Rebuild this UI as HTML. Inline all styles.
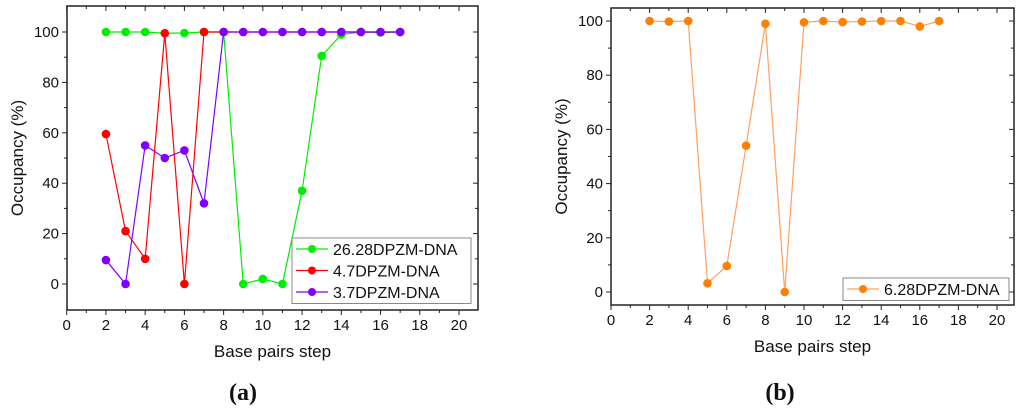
<!DOCTYPE html>
<html><head><meta charset="utf-8"><style>
html,body{margin:0;padding:0;background:#fff;}
svg{display:block;font-family:"Liberation Sans",sans-serif;}
</style></head><body>
<svg id="c" width="1024" height="412" viewBox="0 0 1024 412"></svg>
<script>
const xSteps = [2,3,4,5,6,7,8,9,10,11,12,13,14,15,16,17];
const greenVals = [100,100,100,99.5,99.6,100,100,0,2,0,37,90.5,99,100,99.8,100];
const redVals = [59.5,21,10,99.5,0,100,100,100,100,100,100,100,100,100,100,100];
const purpleVals = [9.5,0,55,50,53,32,100,100,100,100,100,100,100,100,100,100];
const orangeVals = [100,99.8,100,3.2,9.6,54,99,0,99.5,100,99.6,99.8,100,100,98,100];
const xTicks = [0,2,4,6,8,10,12,14,16,18,20];
const yTicks = [0,20,40,60,80,100];

const NS = "http://www.w3.org/2000/svg";
const svg = document.getElementById('c');
function mk(tag, attrs, parent){const e=document.createElementNS(NS,tag);for(const k in attrs)e.setAttribute(k,attrs[k]);(parent||svg).appendChild(e);return e;}

function panel(p){
  const g = mk('g',{});
  
  
  const sx = v => p.x0 + v*(p.x20-p.x0)/20;
  const sy = v => p.y0 - v*(p.y0-p.y100)/100;
  mk('rect',{x:p.left,y:p.top,width:p.right-p.left,height:p.bottom-p.top,fill:'none',stroke:'#222','stroke-width':1.5},g);
  for(let v=0; v<=21; v++){
    const x=sx(v); if(x>p.right) break;
    const len = v%2===0?5:3;
    mk('line',{x1:x,y1:p.bottom,x2:x,y2:p.bottom+len,stroke:'#222'},g);
    mk('line',{x1:x,y1:p.top,x2:x,y2:p.top+len,stroke:'#222'},g);
  }
  xTicks.forEach(v=>{
    const t=mk('text',{x:sx(v),y:p.bottom+20,'text-anchor':'middle','font-size':15,fill:'#111'},g);
    t.textContent=v;
    
    
  });
  for(let v=0; v<=100; v+=10){
    const y=sy(v); const len=v%20===0?5:3;
    mk('line',{x1:p.left-len,y1:y,x2:p.left,y2:y,stroke:'#222'},g);
    mk('line',{x1:p.right,y1:y,x2:p.right-len,y2:y,stroke:'#222'},g);
  }
  yTicks.forEach(v=>{
    const t=mk('text',{x:p.left-8,y:sy(v)+5,'text-anchor':'end','font-size':15,fill:'#111'},g);
    t.textContent=v;
    
    
  });
  const xt=mk('text',{x:(p.left+p.right)/2,y:p.bottom+47,'text-anchor':'middle','font-size':17,fill:'#111'},g);
  xt.textContent='Base pairs step';
  
  
  const yt=mk('text',{x:0,y:0,'text-anchor':'middle','font-size':17,fill:'#111',transform:`translate(${p.left-44},${(p.top+p.bottom)/2}) rotate(-90)`},g);
  yt.textContent='Occupancy (%)';
  
  
  const cap=mk('text',{x:p.capX,y:400,'text-anchor':'middle','font-size':24,'font-weight':'bold','font-family':'Liberation Serif, serif',fill:'#111'},g);
  cap.textContent=p.cap;
  
  
  p.series.forEach(s=>{
    const sg=mk('g',{},g);
    
    
    const pts=xSteps.map((x,i)=>sx(x)+','+sy(s.vals[i])).join(' ');
    mk('polyline',{points:pts,fill:'none',stroke:s.line||s.color,'stroke-width':1.2},sg);
    xSteps.forEach((x,i)=>{
      const c=mk('circle',{cx:sx(x),cy:sy(s.vals[i]),r:4.3,fill:s.color},sg);
      
      
    });
  });
  const lg=mk('g',{},g);
  
  
  mk('rect',{x:p.lx,y:p.ly,width:p.lw,height:p.series.length*21.5+1,fill:'#fff',stroke:'#888'},lg);
  p.series.forEach((s,i)=>{
    const ey=p.ly+11+i*21.5;
    const le=mk('g',{},lg);
    
    
    mk('line',{x1:p.lx+4,y1:ey,x2:p.lx+36,y2:ey,stroke:s.line||s.color,'stroke-width':1.2},le);
    mk('circle',{cx:p.lx+20,cy:ey,r:4,fill:s.color},le);
    const t=mk('text',{x:p.lx+41,y:ey+6,'font-size':16,fill:'#111'},le);
    t.textContent=s.label;
  });
}

panel({name:'chart-a',left:67,right:478,top:6,bottom:310,x0:66.7,x20:459,y0:284,y100:32,capX:243,cap:'(a)',
  lx:292,ly:238,lw:179,
  series:[{label:'26.28DPZM-DNA',color:'#00ee00',vals:greenVals},
          {label:'4.7DPZM-DNA',color:'#ff0000',vals:redVals},
          {label:'3.7DPZM-DNA',color:'#8000ff',vals:purpleVals}]});
panel({name:'chart-b',left:611,right:1014,top:8,bottom:305,x0:611,x20:997,y0:292,y100:21,capX:780,cap:'(b)',
  lx:843,ly:278,lw:166,
  series:[{label:'6.28DPZM-DNA',color:'#ff7f00',line:'#ffa060',vals:orangeVals}]});
</script>
</body></html>
